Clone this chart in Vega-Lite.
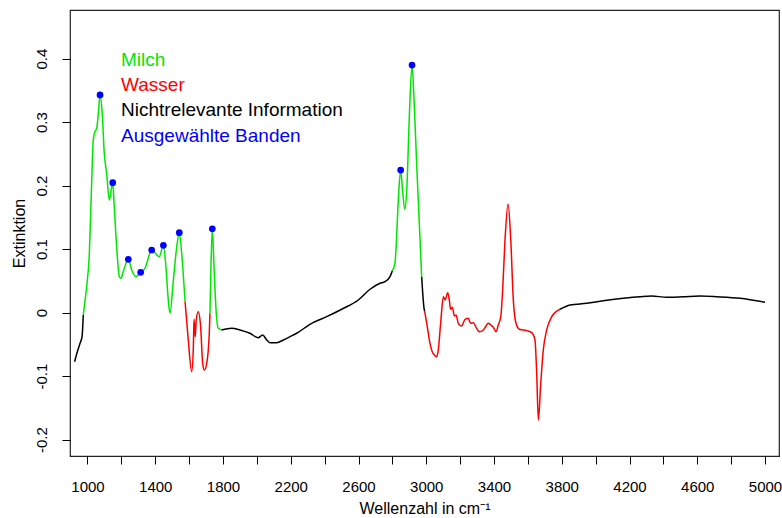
{
  "$schema": "https://vega.github.io/schema/vega-lite/v6.json",
  "width": 709,
  "height": 446,
  "autosize": {"type": "none"},
  "padding": {"left": 70, "top": 10, "right": 3, "bottom": 62},
  "background": "white",
  "config": {
    "view": {"stroke": "#222", "strokeWidth": 1.2},
    "font": "Liberation Sans"
  },
  "datasets": {
    "spectrum": [
      {"w": 924, "a": -0.0772, "seg": 1, "cat": "Nichtrelevante Information"},
      {"w": 940, "a": -0.0614, "seg": 1, "cat": "Nichtrelevante Information"},
      {"w": 956, "a": -0.0482, "seg": 1, "cat": "Nichtrelevante Information"},
      {"w": 968, "a": -0.0378, "seg": 1, "cat": "Nichtrelevante Information"},
      {"w": 975, "a": -0.0036, "seg": 1, "cat": "Nichtrelevante Information"},
      {"w": 975, "a": -0.0036, "seg": 2, "cat": "Milch"},
      {"w": 985, "a": 0.018, "seg": 2, "cat": "Milch"},
      {"w": 995, "a": 0.0409, "seg": 2, "cat": "Milch"},
      {"w": 1011, "a": 0.0935, "seg": 2, "cat": "Milch"},
      {"w": 1025, "a": 0.209, "seg": 2, "cat": "Milch"},
      {"w": 1034, "a": 0.272, "seg": 2, "cat": "Milch"},
      {"w": 1044, "a": 0.285, "seg": 2, "cat": "Milch"},
      {"w": 1054, "a": 0.29, "seg": 2, "cat": "Milch"},
      {"w": 1064, "a": 0.314, "seg": 2, "cat": "Milch"},
      {"w": 1074, "a": 0.343, "seg": 2, "cat": "Milch"},
      {"w": 1087, "a": 0.314, "seg": 2, "cat": "Milch"},
      {"w": 1099, "a": 0.251, "seg": 2, "cat": "Milch"},
      {"w": 1113, "a": 0.2195, "seg": 2, "cat": "Milch"},
      {"w": 1129, "a": 0.1775, "seg": 2, "cat": "Milch"},
      {"w": 1149, "a": 0.2047, "seg": 2, "cat": "Milch"},
      {"w": 1158, "a": 0.167, "seg": 2, "cat": "Milch"},
      {"w": 1172, "a": 0.104, "seg": 2, "cat": "Milch"},
      {"w": 1188, "a": 0.0567, "seg": 2, "cat": "Milch"},
      {"w": 1198, "a": 0.0542, "seg": 2, "cat": "Milch"},
      {"w": 1211, "a": 0.0646, "seg": 2, "cat": "Milch"},
      {"w": 1241, "a": 0.0841, "seg": 2, "cat": "Milch"},
      {"w": 1261, "a": 0.0672, "seg": 2, "cat": "Milch"},
      {"w": 1286, "a": 0.0567, "seg": 2, "cat": "Milch"},
      {"w": 1314, "a": 0.0636, "seg": 2, "cat": "Milch"},
      {"w": 1339, "a": 0.0699, "seg": 2, "cat": "Milch"},
      {"w": 1379, "a": 0.0987, "seg": 2, "cat": "Milch"},
      {"w": 1424, "a": 0.0882, "seg": 2, "cat": "Milch"},
      {"w": 1448, "a": 0.1061, "seg": 2, "cat": "Milch"},
      {"w": 1463, "a": 0.0724, "seg": 2, "cat": "Milch"},
      {"w": 1477, "a": 0.02, "seg": 2, "cat": "Milch"},
      {"w": 1487, "a": -0.0009, "seg": 2, "cat": "Milch"},
      {"w": 1507, "a": 0.0515, "seg": 2, "cat": "Milch"},
      {"w": 1527, "a": 0.104, "seg": 2, "cat": "Milch"},
      {"w": 1542, "a": 0.126, "seg": 2, "cat": "Milch"},
      {"w": 1556, "a": 0.0935, "seg": 2, "cat": "Milch"},
      {"w": 1576, "a": 0.0173, "seg": 2, "cat": "Milch"},
      {"w": 1576, "a": 0.0173, "seg": 3, "cat": "Wasser"},
      {"w": 1595, "a": -0.043, "seg": 3, "cat": "Wasser"},
      {"w": 1615, "a": -0.0929, "seg": 3, "cat": "Wasser"},
      {"w": 1625, "a": -0.0535, "seg": 3, "cat": "Wasser"},
      {"w": 1629, "a": -0.0104, "seg": 3, "cat": "Wasser"},
      {"w": 1636, "a": -0.0378, "seg": 3, "cat": "Wasser"},
      {"w": 1642, "a": -0.0115, "seg": 3, "cat": "Wasser"},
      {"w": 1654, "a": 0.0016, "seg": 3, "cat": "Wasser"},
      {"w": 1668, "a": -0.022, "seg": 3, "cat": "Wasser"},
      {"w": 1680, "a": -0.0797, "seg": 3, "cat": "Wasser"},
      {"w": 1690, "a": -0.0902, "seg": 3, "cat": "Wasser"},
      {"w": 1704, "a": -0.0797, "seg": 3, "cat": "Wasser"},
      {"w": 1719, "a": -0.0324, "seg": 3, "cat": "Wasser"},
      {"w": 1723, "a": -0.0009, "seg": 3, "cat": "Wasser"},
      {"w": 1723, "a": -0.0009, "seg": 4, "cat": "Milch"},
      {"w": 1729, "a": 0.0724, "seg": 4, "cat": "Milch"},
      {"w": 1737, "a": 0.132, "seg": 4, "cat": "Milch"},
      {"w": 1747, "a": 0.0724, "seg": 4, "cat": "Milch"},
      {"w": 1759, "a": 0.0043, "seg": 4, "cat": "Milch"},
      {"w": 1772, "a": -0.0246, "seg": 4, "cat": "Milch"},
      {"w": 1792, "a": -0.0272, "seg": 4, "cat": "Milch"},
      {"w": 1792, "a": -0.0272, "seg": 5, "cat": "Nichtrelevante Information"},
      {"w": 1851, "a": -0.0246, "seg": 5, "cat": "Nichtrelevante Information"},
      {"w": 1900, "a": -0.0272, "seg": 5, "cat": "Nichtrelevante Information"},
      {"w": 1959, "a": -0.0324, "seg": 5, "cat": "Nichtrelevante Information"},
      {"w": 2008, "a": -0.0394, "seg": 5, "cat": "Nichtrelevante Information"},
      {"w": 2034, "a": -0.0351, "seg": 5, "cat": "Nichtrelevante Information"},
      {"w": 2058, "a": -0.043, "seg": 5, "cat": "Nichtrelevante Information"},
      {"w": 2077, "a": -0.0472, "seg": 5, "cat": "Nichtrelevante Information"},
      {"w": 2117, "a": -0.0472, "seg": 5, "cat": "Nichtrelevante Information"},
      {"w": 2156, "a": -0.043, "seg": 5, "cat": "Nichtrelevante Information"},
      {"w": 2196, "a": -0.0378, "seg": 5, "cat": "Nichtrelevante Information"},
      {"w": 2235, "a": -0.0324, "seg": 5, "cat": "Nichtrelevante Information"},
      {"w": 2324, "a": -0.0167, "seg": 5, "cat": "Nichtrelevante Information"},
      {"w": 2343, "a": -0.0142, "seg": 5, "cat": "Nichtrelevante Information"},
      {"w": 2412, "a": -0.0063, "seg": 5, "cat": "Nichtrelevante Information"},
      {"w": 2501, "a": 0.0054, "seg": 5, "cat": "Nichtrelevante Information"},
      {"w": 2599, "a": 0.02, "seg": 5, "cat": "Nichtrelevante Information"},
      {"w": 2668, "a": 0.0369, "seg": 5, "cat": "Nichtrelevante Information"},
      {"w": 2727, "a": 0.0463, "seg": 5, "cat": "Nichtrelevante Information"},
      {"w": 2756, "a": 0.0488, "seg": 5, "cat": "Nichtrelevante Information"},
      {"w": 2786, "a": 0.0567, "seg": 5, "cat": "Nichtrelevante Information"},
      {"w": 2800, "a": 0.066, "seg": 5, "cat": "Nichtrelevante Information"},
      {"w": 2800, "a": 0.066, "seg": 6, "cat": "Milch"},
      {"w": 2815, "a": 0.0778, "seg": 6, "cat": "Milch"},
      {"w": 2821, "a": 0.0987, "seg": 6, "cat": "Milch"},
      {"w": 2835, "a": 0.1775, "seg": 6, "cat": "Milch"},
      {"w": 2849, "a": 0.2247, "seg": 6, "cat": "Milch"},
      {"w": 2860, "a": 0.1932, "seg": 6, "cat": "Milch"},
      {"w": 2873, "a": 0.1628, "seg": 6, "cat": "Milch"},
      {"w": 2885, "a": 0.1932, "seg": 6, "cat": "Milch"},
      {"w": 2900, "a": 0.3087, "seg": 6, "cat": "Milch"},
      {"w": 2916, "a": 0.39, "seg": 6, "cat": "Milch"},
      {"w": 2928, "a": 0.335, "seg": 6, "cat": "Milch"},
      {"w": 2944, "a": 0.23, "seg": 6, "cat": "Milch"},
      {"w": 2959, "a": 0.1408, "seg": 6, "cat": "Milch"},
      {"w": 2973, "a": 0.0567, "seg": 6, "cat": "Milch"},
      {"w": 2973, "a": 0.0567, "seg": 7, "cat": "Nichtrelevante Information"},
      {"w": 2987, "a": 0.0069, "seg": 7, "cat": "Nichtrelevante Information"},
      {"w": 2991, "a": 0.0016, "seg": 7, "cat": "Nichtrelevante Information"},
      {"w": 2991, "a": 0.0016, "seg": 8, "cat": "Wasser"},
      {"w": 3003, "a": -0.0167, "seg": 8, "cat": "Wasser"},
      {"w": 3022, "a": -0.0482, "seg": 8, "cat": "Wasser"},
      {"w": 3042, "a": -0.065, "seg": 8, "cat": "Wasser"},
      {"w": 3062, "a": -0.0693, "seg": 8, "cat": "Wasser"},
      {"w": 3071, "a": -0.0587, "seg": 8, "cat": "Wasser"},
      {"w": 3085, "a": -0.0167, "seg": 8, "cat": "Wasser"},
      {"w": 3101, "a": 0.0252, "seg": 8, "cat": "Wasser"},
      {"w": 3111, "a": 0.02, "seg": 8, "cat": "Wasser"},
      {"w": 3127, "a": 0.0315, "seg": 8, "cat": "Wasser"},
      {"w": 3136, "a": 0.02, "seg": 8, "cat": "Wasser"},
      {"w": 3144, "a": 0.0054, "seg": 8, "cat": "Wasser"},
      {"w": 3154, "a": 0.0085, "seg": 8, "cat": "Wasser"},
      {"w": 3166, "a": -0.0052, "seg": 8, "cat": "Wasser"},
      {"w": 3176, "a": -0.0036, "seg": 8, "cat": "Wasser"},
      {"w": 3189, "a": -0.0167, "seg": 8, "cat": "Wasser"},
      {"w": 3209, "a": -0.0209, "seg": 8, "cat": "Wasser"},
      {"w": 3229, "a": -0.0104, "seg": 8, "cat": "Wasser"},
      {"w": 3248, "a": -0.0088, "seg": 8, "cat": "Wasser"},
      {"w": 3262, "a": -0.0167, "seg": 8, "cat": "Wasser"},
      {"w": 3278, "a": -0.0157, "seg": 8, "cat": "Wasser"},
      {"w": 3294, "a": -0.023, "seg": 8, "cat": "Wasser"},
      {"w": 3313, "a": -0.0299, "seg": 8, "cat": "Wasser"},
      {"w": 3337, "a": -0.0272, "seg": 8, "cat": "Wasser"},
      {"w": 3353, "a": -0.0209, "seg": 8, "cat": "Wasser"},
      {"w": 3366, "a": -0.0167, "seg": 8, "cat": "Wasser"},
      {"w": 3381, "a": -0.0194, "seg": 8, "cat": "Wasser"},
      {"w": 3396, "a": -0.023, "seg": 8, "cat": "Wasser"},
      {"w": 3412, "a": -0.0299, "seg": 8, "cat": "Wasser"},
      {"w": 3425, "a": -0.0194, "seg": 8, "cat": "Wasser"},
      {"w": 3440, "a": -0.0063, "seg": 8, "cat": "Wasser"},
      {"w": 3451, "a": 0.0357, "seg": 8, "cat": "Wasser"},
      {"w": 3465, "a": 0.1145, "seg": 8, "cat": "Wasser"},
      {"w": 3483, "a": 0.1712, "seg": 8, "cat": "Wasser"},
      {"w": 3499, "a": 0.1145, "seg": 8, "cat": "Wasser"},
      {"w": 3514, "a": 0.02, "seg": 8, "cat": "Wasser"},
      {"w": 3530, "a": -0.0167, "seg": 8, "cat": "Wasser"},
      {"w": 3550, "a": -0.0261, "seg": 8, "cat": "Wasser"},
      {"w": 3593, "a": -0.0283, "seg": 8, "cat": "Wasser"},
      {"w": 3623, "a": -0.0315, "seg": 8, "cat": "Wasser"},
      {"w": 3642, "a": -0.043, "seg": 8, "cat": "Wasser"},
      {"w": 3652, "a": -0.0954, "seg": 8, "cat": "Wasser"},
      {"w": 3662, "a": -0.169, "seg": 8, "cat": "Wasser"},
      {"w": 3676, "a": -0.1112, "seg": 8, "cat": "Wasser"},
      {"w": 3691, "a": -0.0587, "seg": 8, "cat": "Wasser"},
      {"w": 3711, "a": -0.0272, "seg": 8, "cat": "Wasser"},
      {"w": 3741, "a": -0.0063, "seg": 8, "cat": "Wasser"},
      {"w": 3790, "a": 0.0054, "seg": 8, "cat": "Wasser"},
      {"w": 3790, "a": 0.0054, "seg": 9, "cat": "Nichtrelevante Information"},
      {"w": 3849, "a": 0.0121, "seg": 9, "cat": "Nichtrelevante Information"},
      {"w": 3947, "a": 0.0148, "seg": 9, "cat": "Nichtrelevante Information"},
      {"w": 4045, "a": 0.0189, "seg": 9, "cat": "Nichtrelevante Information"},
      {"w": 4163, "a": 0.0227, "seg": 9, "cat": "Nichtrelevante Information"},
      {"w": 4262, "a": 0.0252, "seg": 9, "cat": "Nichtrelevante Information"},
      {"w": 4331, "a": 0.0263, "seg": 9, "cat": "Nichtrelevante Information"},
      {"w": 4420, "a": 0.0243, "seg": 9, "cat": "Nichtrelevante Information"},
      {"w": 4518, "a": 0.0252, "seg": 9, "cat": "Nichtrelevante Information"},
      {"w": 4616, "a": 0.0263, "seg": 9, "cat": "Nichtrelevante Information"},
      {"w": 4715, "a": 0.0252, "seg": 9, "cat": "Nichtrelevante Information"},
      {"w": 4853, "a": 0.0227, "seg": 9, "cat": "Nichtrelevante Information"},
      {"w": 5000, "a": 0.0164, "seg": 9, "cat": "Nichtrelevante Information"}
    ],
    "bands": [
      {"w": 1074, "a": 0.343, "cat": "Ausgewählte Banden"},
      {"w": 1149, "a": 0.2047, "cat": "Ausgewählte Banden"},
      {"w": 1241, "a": 0.0841, "cat": "Ausgewählte Banden"},
      {"w": 1314, "a": 0.0636, "cat": "Ausgewählte Banden"},
      {"w": 1379, "a": 0.0987, "cat": "Ausgewählte Banden"},
      {"w": 1448, "a": 0.1061, "cat": "Ausgewählte Banden"},
      {"w": 1542, "a": 0.126, "cat": "Ausgewählte Banden"},
      {"w": 1737, "a": 0.132, "cat": "Ausgewählte Banden"},
      {"w": 2849, "a": 0.2247, "cat": "Ausgewählte Banden"},
      {"w": 2916, "a": 0.39, "cat": "Ausgewählte Banden"}
    ],
    "labels": [
      {"w": 1198, "a": 0.3885, "cat": "Milch"},
      {"w": 1198, "a": 0.3487, "cat": "Wasser"},
      {"w": 1198, "a": 0.309, "cat": "Nichtrelevante Information"},
      {"w": 1198, "a": 0.2693, "cat": "Ausgewählte Banden"}
    ]
  },
  "encoding": {
    "x": {
      "field": "w",
      "type": "quantitative",
      "scale": {"domain": [896.7, 5082.6], "nice": false, "zero": false},
      "axis": {
        "title": "Wellenzahl in cm⁻¹",
        "values": [1000, 1200, 1400, 1600, 1800, 2000, 2200, 2400, 2600, 2800, 3000, 3200, 3400, 3600, 3800, 4000, 4200, 4400, 4600, 4800, 5000],
        "labelExpr": "(datum.value - 1000) % 400 == 0 ? '' + datum.value : ''",
        "grid": false,
        "domain": false,
        "tickColor": "#000",
        "tickSize": 8,
        "tickWidth": 1,
        "labelFont": "Liberation Sans",
        "labelFontSize": 15,
        "labelColor": "#000",
        "labelPadding": 15,
        "labelFlush": false,
        "labelOverlap": false,
        "titleFont": "Liberation Sans",
        "titleFontSize": 16,
        "titleFontWeight": "normal",
        "titleColor": "#000",
        "titleY": 52,
        "titleBaseline": "middle"
      }
    },
    "y": {
      "field": "a",
      "type": "quantitative",
      "scale": {"domain": [-0.2257, 0.4767], "nice": false, "zero": false},
      "axis": {
        "title": "Extinktion",
        "values": [-0.2, -0.1, 0, 0.1, 0.2, 0.3, 0.4],
        "labelExpr": "'' + datum.value",
        "grid": false,
        "domain": false,
        "tickColor": "#000",
        "tickSize": 8,
        "tickWidth": 1,
        "labelAngle": -90,
        "labelAlign": "center",
        "labelBaseline": "bottom",
        "labelFont": "Liberation Sans",
        "labelFontSize": 15,
        "labelColor": "#000",
        "labelPadding": 13,
        "labelFlush": false,
        "labelOverlap": false,
        "titleFont": "Liberation Sans",
        "titleFontSize": 16,
        "titleFontWeight": "normal",
        "titleColor": "#000",
        "titleX": -51,
        "titleBaseline": "middle"
      }
    },
    "color": {
      "field": "cat",
      "type": "nominal",
      "scale": {
        "domain": ["Milch", "Wasser", "Nichtrelevante Information", "Ausgewählte Banden"],
        "range": ["#00E600", "#FF0000", "#000000", "#0000FF"]
      },
      "legend": null
    }
  },
  "layer": [
    {
      "data": {"name": "spectrum"},
      "mark": {"type": "line", "strokeWidth": 1.5, "interpolate": "monotone"},
      "encoding": {"detail": {"field": "seg", "type": "nominal"}}
    },
    {
      "data": {"name": "bands"},
      "mark": {"type": "point", "filled": true, "size": 45, "opacity": 1}
    },
    {
      "data": {"name": "labels"},
      "mark": {"type": "text", "align": "left", "baseline": "alphabetic", "font": "Liberation Sans", "fontSize": 19},
      "encoding": {"text": {"field": "cat", "type": "nominal"}}
    }
  ]
}
